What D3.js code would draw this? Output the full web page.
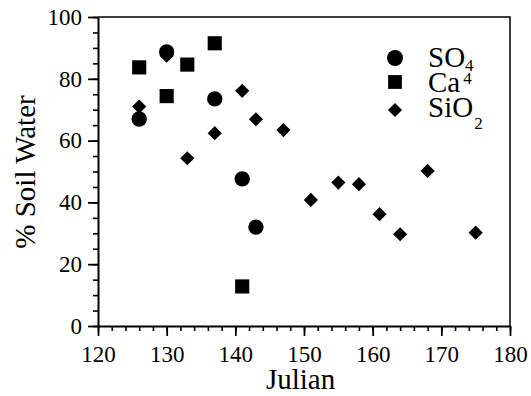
<!DOCTYPE html>
<html>
<head>
<meta charset="utf-8">
<script src="https://cdn.jsdelivr.net/npm/d3@7"></script>
<style>
  body { margin: 0; background: #fff; }
  svg text { font-family: "Liberation Serif", "Times New Roman", serif; }
</style>
</head>
<body>
<svg id="chart" width="531" height="396"></svg>
<script>
// values
var so4Days = [126, 130, 137, 141, 143];
var so4 = [67, 88.7, 73.5, 47.6, 32];

var caDays = [126, 130, 133, 137, 141];
var ca = [83.7, 74.4, 84.6, 91.5, 12.8];

var sio2Days = [126, 130, 133, 137, 141, 143, 147, 151, 155, 158, 161, 164, 168, 175];
var sio2 = [71, 87.5, 54.3, 62.4, 76.1, 66.9, 63.4, 40.8, 46.4, 45.9, 36.2, 29.7, 50.2, 30.2];

var xTicks = [120, 130, 140, 150, 160, 170, 180];
var yTicks = [0, 20, 40, 60, 80, 100];

var serif = "Liberation Serif";

var svg = d3.select("#chart"),
    margin = { top: 17, right: 21, bottom: 70, left: 98 },
    width = +svg.attr("width") - margin.left - margin.right,
    height = +svg.attr("height") - margin.top - margin.bottom,
    g = svg.append("g").attr("transform", "translate(" + margin.left + "," + margin.top + ")");

var x = d3.scaleLinear().domain([120, 180]).range([0, width]);
var y = d3.scaleLinear().domain([0, 100]).range([height, 0]);

// frame (top + right)
g.append("path")
    .attr("d", "M0,0H" + width + "V" + height)
    .attr("fill", "none")
    .attr("stroke", "#000")
    .attr("stroke-width", 1.5);

// minor ticks
g.append("g")
    .attr("transform", "translate(0," + height + ")")
    .call(d3.axisBottom(x).tickValues(d3.range(120, 181, 2)).tickSize(5).tickSizeOuter(0).tickFormat(""))
    .call(function (a) { a.select(".domain").remove(); a.selectAll("line").attr("stroke-width", 1.6); });

g.append("g")
    .call(d3.axisLeft(y).tickValues(d3.range(0, 101, 5)).tickSize(5).tickSizeOuter(0).tickFormat(""))
    .call(function (a) { a.select(".domain").remove(); a.selectAll("line").attr("stroke-width", 1.6); });

// major axes
var xAxis = g.append("g")
    .attr("transform", "translate(0," + height + ")")
    .call(d3.axisBottom(x).tickValues(xTicks).tickSize(10).tickSizeOuter(0).tickPadding(10));

var yAxis = g.append("g")
    .call(d3.axisLeft(y).tickValues(yTicks).tickSize(10).tickSizeOuter(0).tickPadding(6));

[xAxis, yAxis].forEach(function (a) {
    a.attr("font-family", serif).attr("font-size", 23);
    a.select(".domain").attr("stroke-width", 2);
    a.selectAll(".tick line").attr("stroke-width", 1.8);
    a.selectAll(".tick text")
        .attr("font-family", serif)
        .attr("font-size", 23)
        .attr("fill", "#000");
});

// axis titles
svg.append("text")
    .attr("x", margin.left + x(149.5))
    .attr("y", 389)
    .attr("text-anchor", "middle")
    .attr("font-family", serif)
    .attr("font-size", 29)
    .text("Julian");

svg.append("text")
    .attr("transform", "translate(35," + 172 + ")rotate(-90)")
    .attr("text-anchor", "middle")
    .attr("font-family", serif)
    .attr("font-size", 29)
    .text("% Soil Water");

// marks
var diamond = d3.symbol().type(d3.symbolSquare).size(100);
var square = d3.symbol().type(d3.symbolSquare).size(200);
var circle = d3.symbol().type(d3.symbolCircle).size(185);

g.append("g")
    .selectAll("path")
    .data(sio2Days.map(function (d, i) { return [d, sio2[i]]; }))
    .enter().append("path")
    .attr("d", diamond)
    .attr("transform", function (d) { return "translate(" + x(d[0]) + "," + y(d[1]) + ")rotate(45)"; })
    .attr("fill", "#000");

g.append("g")
    .selectAll("path")
    .data(caDays.map(function (d, i) { return [d, ca[i]]; }))
    .enter().append("path")
    .attr("d", square)
    .attr("transform", function (d) { return "translate(" + x(d[0]) + "," + y(d[1]) + ")"; })
    .attr("fill", "#000");

g.append("g")
    .selectAll("path")
    .data(so4Days.map(function (d, i) { return [d, so4[i]]; }))
    .enter().append("path")
    .attr("d", circle)
    .attr("transform", function (d) { return "translate(" + x(d[0]) + "," + y(d[1]) + ")"; })
    .attr("fill", "#000");

// legend
var legend = svg.append("g").attr("transform", "translate(395,0)");

legend.append("path").attr("d", d3.symbol().type(d3.symbolCircle).size(200))
    .attr("transform", "translate(0,58)");
legend.append("path").attr("d", d3.symbol().type(d3.symbolSquare).size(190))
    .attr("transform", "translate(0,82)");
legend.append("path").attr("d", diamond)
    .attr("transform", "translate(0,110)rotate(45)");

var lt = legend.append("g").attr("font-family", serif).attr("font-size", 29);

var t1 = lt.append("text").attr("x", 33).attr("y", 67);
t1.append("tspan").text("SO");
t1.append("tspan").attr("font-size", 17).attr("dy", 4).text("4");

var t2 = lt.append("text").attr("x", 33).attr("y", 92);
t2.append("tspan").text("Ca");
t2.append("tspan").attr("font-size", 17).attr("dx", 3).attr("dy", -8).text("4");

var t3 = lt.append("text").attr("x", 33).attr("y", 117);
t3.append("tspan").text("SiO");
t3.append("tspan").attr("font-size", 17).attr("dx", 1).attr("dy", 12).text("2");
</script>
</body>
</html>
